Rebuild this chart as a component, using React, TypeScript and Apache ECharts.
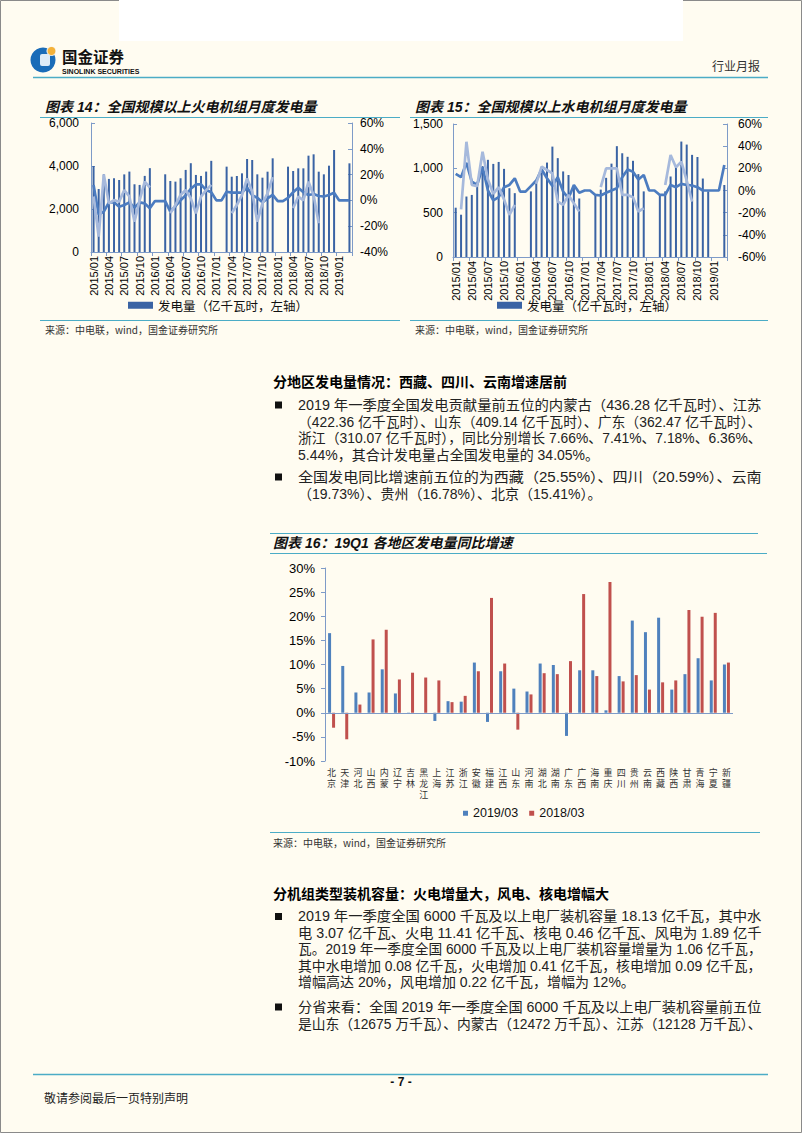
import React, { useEffect, useRef } from 'react';
import * as echarts from 'echarts';

// ---------- data ----------
const months = [
  '2015/01','2015/02','2015/03','2015/04','2015/05','2015/06','2015/07','2015/08','2015/09','2015/10','2015/11','2015/12',
  '2016/01','2016/02','2016/03','2016/04','2016/05','2016/06','2016/07','2016/08','2016/09','2016/10','2016/11','2016/12',
  '2017/01','2017/02','2017/03','2017/04','2017/05','2017/06','2017/07','2017/08','2017/09','2017/10','2017/11','2017/12',
  '2018/01','2018/02','2018/03','2018/04','2018/05','2018/06','2018/07','2018/08','2018/09','2018/10','2018/11','2018/12',
  '2019/01','2019/02','2019/03',
];

// 图表14 火电
const thermalOutput = [
  4000, 2930, 3610, 3400, 3430, 3350, 3610, 3740, 3150, 3120, 3540, 3900,
  null, null, 3614, 3304, 3273, 3429, 3818, 4130, 3584, 3538, 3740, 4240,
  null, null, 3970, 3503, 3535, 3659, 4326, 4279, 3612, 3457, 3736, 4357,
  null, null, 3970, 3767, 3891, 3891, 4481, 4543, 3736, 3612, 4015, 4744,
  null, null, 4124,
];
const thermalYoyCum = [
  12, -11, -8.7, -1.5, -1.5, -4.9, -3.6, -1.5, -5.6, -1.5, -2.3, -6.1,
  -0.5, -0.5, -0.5, -8.7, -4.5, 0, 4, 9, 12.4, 12.4, 8, 6.3,
  0, 0, 6.7, 6, 6, 6, 10, 4, 2, -1.5, 1.5, 4.2,
  -0.5, -0.5, 2, 6.3, 9.8, 6.3, 4.2, 5, 3.4, 3, 4.2, 6,
  0, 0, 0,
];
const thermalYoyMonth = [
  3, -28, 20, -2.3, 0.3, -1, 8, 3, -16.5, 0, 14.5, 10,
  null, null, null, -10, -3.6, 4.2, 8, 1.6, -10, 2.9, 8, 12,
  null, null, null, -10, -3.6, 4, 17, 6.8, -16.5, -2.3, 5.5, 18,
  null, null, null, -6, 3, 0, 14.5, 4, -17.8, null, null, null,
  null, null, null,
];

// 图表15 水电
const hydroOutput = [
  556, 477, 682, 700, 848, 1025, 1096, 1050, 1072, 994, 776, 720,
  null, null, 740, 830, 950, 1065, 1245, 1115, 965, 925, 805, 660,
  null, null, 700, 760, 893, 1053, 1250, 1170, 1130, 1085, 935, 740,
  null, null, 700, 740, 908, 1015, 1302, 1268, 1152, 1128, 885, 740,
  null, null, 812,
];
const hydroYoyCum = [
  15, 12, 25, 8, 5, 21, 0, -9, -6, 3, 5, 11,
  -1, -1, 4, 9, 19, 11, 4, 12, -1, -7, 5, -2,
  0, 0, -4, -4.5, -2, 0, 2, 12, 19, 17, 10, 14,
  0, 0, -4, -4, 5, 3, 6, 5, 4.5, 3, 0, 0,
  0, 0, 23,
];
const hydroYoyMonth = [
  null, -17, 44, 5, 4, 35, 10, -3, 3, -8, -22, -13,
  null, null, null, 6.5, 21.5, 18.5, 15.5, -10, -13, -4, -11.6, -19,
  null, null, null, 3, 20, 20, 20, -4, -4, -6, -19, -16,
  null, null, null, 5, 32, 21, 26, 9, -10, null, null, null,
  null, null, null,
];

// 图表16
const provinces = ['北京','天津','河北','山西','内蒙','辽宁','吉林','黑龙江','上海','江苏','浙江','安徽','福建','江西','山东','河南','湖北','湖南','广东','广西','海南','重庆','四川','贵州','云南','西藏','陕西','甘肃','青海','宁夏','新疆'];
const growth2019 = [16.5, 9.7, 4.2, 4.2, 9.0, 4.0, -0.2, 0, -1.7, 2.4, 2.3, 10.4, -1.9, 8.6, 5.0, 4.4, 10.2, 9.9, -4.8, 8.8, 8.8, 0.5, 7.6, 19.1, 16.7, 19.7, 4.8, 8.0, 11.3, 6.7, 10.0];
const growth2018 = [-3.1, -5.5, 1.7, 15.2, 17.2, 6.9, 8.3, 7.3, 6.7, 2.2, 3.5, 8.6, 23.8, 10.2, -3.5, 3.8, 8.2, 8.0, 10.7, 24.6, 7.6, 27.1, 6.5, 7.8, 4.8, 6.3, 6.7, 21.3, 19.9, 20.7, 10.4];

const outputName = '发电量（亿千瓦时，左轴）';
const sourceText = '来源：中电联，wind，国金证券研究所';

const section1Heading = '分地区发电量情况：西藏、四川、云南增速居前';
const section1Bullet1 = [
  '2019 年一季度全国发电贡献量前五位的内蒙古（436.28 亿千瓦时）、江苏',
  '（422.36 亿千瓦时）、山东（409.14 亿千瓦时）、广东（362.47 亿千瓦时）、',
  '浙江（310.07 亿千瓦时），同比分别增长 7.66%、7.41%、7.18%、6.36%、',
  '5.44%，其合计发电量占全国发电量的 34.05%。',
];
const section1Bullet2 = [
  '全国发电同比增速前五位的为西藏（25.55%）、四川（20.59%）、云南',
  '（19.73%）、贵州（16.78%）、北京（15.41%）。',
];
const section2Heading = '分机组类型装机容量：火电增量大，风电、核电增幅大';
const section2Bullet1 = [
  '2019 年一季度全国 6000 千瓦及以上电厂装机容量 18.13 亿千瓦，其中水',
  '电 3.07 亿千瓦、火电 11.41 亿千瓦、核电 0.46 亿千瓦、风电为 1.89 亿千',
  '瓦。2019 年一季度全国 6000 千瓦及以上电厂装机容量增量为 1.06 亿千瓦，',
  '其中水电增加 0.08 亿千瓦，火电增加 0.41 亿千瓦，核电增加 0.09 亿千瓦，',
  '增幅高达 20%，风电增加 0.22 亿千瓦，增幅为 12%。',
];
const section2Bullet2 = [
  '分省来看：全国 2019 年一季度全国 6000 千瓦及以上电厂装机容量前五位',
  '是山东（12675 万千瓦）、内蒙古（12472 万千瓦）、江苏（12128 万千瓦）、',
];

// ---------- styles ----------
const SANS = '"Liberation Sans", Arial, "Noto Sans CJK SC", sans-serif';
const CJK = '"Noto Sans CJK SC", "Liberation Sans", sans-serif';
const AX = '#7E9BC8';
const BAR = '#3A63A4';
const DARKLINE = '#4C7CC0';
const LIGHTLINE = '#A6B9DC';
const RULE = '#4BACC6';
const BODY_SIZE = 14;
const BODY_LEFT = 298;
const BODY_RIGHT = 762;

let measureCtx: CanvasRenderingContext2D | null = null;
function measure(text: string, size: number, family: string) {
  if (!measureCtx) measureCtx = document.createElement('canvas').getContext('2d');
  if (!measureCtx) return 0;
  measureCtx.font = `${size}px ${family}`;
  return measureCtx.measureText(text).width;
}

function txt(x: number, y: number, text: string, o: any = {}) {
  return {
    type: 'text',
    x,
    y,
    scaleX: o.scaleX || 1,
    silent: true,
    style: {
      text,
      fill: o.fill || '#1a1a1a',
      fontSize: o.size || 14,
      fontFamily: o.family || SANS,
      fontWeight: o.weight || 'normal',
      fontStyle: o.style || 'normal',
      align: o.align || 'left',
      textAlign: o.align || 'left',
      verticalAlign: 'middle',
      textVerticalAlign: 'middle',
    },
  };
}
function hline(x1: number, x2: number, y: number, color = RULE, w = 1) {
  return { type: 'line', silent: true, shape: { x1, y1: y, x2, y2: y }, style: { stroke: color, lineWidth: w } };
}
function rect(x: number, y: number, w: number, h: number, fill: string, stroke?: string) {
  return { type: 'rect', silent: true, shape: { x, y, width: w, height: h }, style: { fill, stroke: stroke || 'none', lineWidth: 1 } };
}
// justified paragraph: every line but the last is stretched to the column width (like the report)
function paragraph(lines: string[], y0: number, step: number, justifyAll = false) {
  const els: any[] = [rect(275, y0 - 3.5, 7, 7, '#111')];
  lines.forEach((l, i) => {
    let scaleX = 1;
    if (justifyAll || i < lines.length - 1) {
      const w = measure(l, BODY_SIZE, SANS);
      if (w > 0) scaleX = Math.min(1.12, Math.max(0.9, (BODY_RIGHT - BODY_LEFT) / w));
    }
    els.push(txt(BODY_LEFT, y0 + i * step, l, { size: BODY_SIZE, fill: '#222', scaleX }));
  });
  return els;
}

function buildOption() {
  const graphics: any[] = [
    rect(0.5, 0.5, 801, 1132, 'none', '#8a8a8a'),
    rect(119, 0, 564, 41, '#ffffff'),
    // logo
    { type: 'circle', silent: true, shape: { cx: 43, cy: 60, r: 12.5 }, style: { fill: '#1A6CB8' } },
    { type: 'rect', silent: true, shape: { x: 40, y: 54, width: 10, height: 12, r: 2 }, style: { fill: '#DDEBF7' } },
    { type: 'circle', silent: true, shape: { cx: 51.5, cy: 51, r: 4.5 }, style: { fill: '#F4B23A', stroke: '#ffffff', lineWidth: 1 } },
    txt(62, 55.5, '国金证券', { size: 15.5, weight: 'bold', family: CJK, fill: '#111' }),
    txt(62, 71.5, 'SINOLINK SECURITIES', { size: 7, weight: 'bold', fill: '#111' }),
    txt(760, 65, '行业月报', { size: 12, family: CJK, fill: '#333', align: 'right' }),
    hline(33, 768, 77.5, RULE, 1.5),

    // chart 14 frame
    txt(45, 107, '图表 14：全国规模以上火电机组月度发电量', { size: 14, weight: 'bold', style: 'italic', fill: '#111' }),
    hline(40, 400, 117.5),
    hline(40, 400, 320.5),
    txt(45, 329, sourceText, { size: 10, family: CJK, fill: '#333' }),

    // chart 15 frame
    txt(415, 107, '图表 15：全国规模以上水电机组月度发电量', { size: 14, weight: 'bold', style: 'italic', fill: '#111' }),
    hline(410, 768, 117.5),
    hline(410, 768, 320.5),
    txt(415, 329, sourceText, { size: 10, family: CJK, fill: '#333' }),

    // section 1
    txt(273, 381, section1Heading, { size: 14, weight: 'bold', family: CJK, fill: '#000' }),
    ...paragraph(section1Bullet1, 405, 16.5),
    ...paragraph(section1Bullet2, 477, 16.5),

    // chart 16 frame
    hline(270, 758, 533.5),
    hline(270, 767, 553.5),
    txt(273, 543, '图表 16：19Q1 各地区发电量同比增速', { size: 14, weight: 'bold', style: 'italic', fill: '#111' }),
    hline(270, 760, 832.5),
    txt(273, 842, sourceText, { size: 10, family: CJK, fill: '#333' }),

    // section 2
    txt(273, 893, section2Heading, { size: 14, weight: 'bold', family: CJK, fill: '#000' }),
    ...paragraph(section2Bullet1, 916.5, 16.4),
    ...paragraph(section2Bullet2, 1007, 16.5, true),

    // footer
    hline(33, 768, 1074.5, RULE, 1.5),
    txt(401, 1082, '- 7 -', { size: 12, weight: 'bold', align: 'center', fill: '#111' }),
    txt(44, 1097, '敬请参阅最后一页特别声明', { size: 12, family: CJK, fill: '#222' }),
  ];

  const pct = (v: number) => `${v}%`;
  const thousands = (v: number) => v.toLocaleString('en-US');
  const lbl = { color: '#000', fontFamily: SANS, fontSize: 12 };

  const monthAxis = (gridIndex: number) => ({
    type: 'category',
    gridIndex,
    data: months,
    boundaryGap: true,
    axisLine: { show: true, onZero: false, lineStyle: { color: AX } },
    axisTick: { show: true, interval: 2, length: 4, lineStyle: { color: AX } },
    axisLabel: { interval: 2, rotate: 90, fontSize: 11, margin: 4, color: '#000', fontFamily: SANS },
    splitLine: { show: false },
  });
  const valAxis = (gridIndex: number, min: number, max: number, interval: number, fmt: any, position: string, margin: number) => ({
    type: 'value',
    gridIndex,
    min,
    max,
    interval,
    position,
    axisLine: { show: true, onZero: false, lineStyle: { color: AX } },
    axisTick: { show: true, inside: true, length: 4, lineStyle: { color: AX } },
    axisLabel: { ...lbl, formatter: fmt, margin },
    splitLine: { show: false },
  });

  const lineSeries = (name: string, data: any[], x: number, y: number, color: string, z: number) => ({
    name,
    type: 'line',
    xAxisIndex: x,
    yAxisIndex: y,
    data,
    symbol: 'none',
    connectNulls: false,
    lineStyle: { color, width: 2.7 },
    itemStyle: { color },
    z,
  });

  return {
    animation: false,
    backgroundColor: '#FFFCF1',
    textStyle: { fontFamily: SANS },
    graphic: { elements: graphics },
    grid: [
      { left: 91, top: 123, width: 261, height: 129, containLabel: false, outerBoundsMode: 'none' },
      { left: 453, top: 124, width: 274, height: 133, containLabel: false, outerBoundsMode: 'none' },
      { left: 325, top: 568, width: 408, height: 193, containLabel: false, outerBoundsMode: 'none' },
    ],
    legend: [
      {
        data: [outputName], left: 128, top: 299, padding: 0, icon: 'rect', itemWidth: 25, itemHeight: 7,
        selectedMode: false, textStyle: { fontSize: 12.5, fontFamily: CJK, color: '#111' },
      },
      {
        data: [outputName], left: 497, top: 299, padding: 0, icon: 'rect', itemWidth: 25, itemHeight: 7,
        selectedMode: false, textStyle: { fontSize: 12.5, fontFamily: CJK, color: '#111' },
      },
      {
        data: ['2019/03', '2018/03'], left: 463, top: 807, padding: 0, icon: 'rect', itemWidth: 5, itemHeight: 5, itemGap: 11,
        selectedMode: false, textStyle: { fontSize: 12.5, fontFamily: SANS, color: '#111' },
      },
    ],
    xAxis: [
      monthAxis(0),
      monthAxis(1),
      {
        type: 'category',
        gridIndex: 2,
        data: provinces,
        boundaryGap: true,
        axisLine: { show: false, onZero: false },
        axisTick: { show: false },
        axisLabel: {
          interval: 0,
          margin: 6,
          fontSize: 9,
          lineHeight: 11,
          color: '#333',
          fontFamily: CJK,
          formatter: (v: string) => v.split('').join('\n'),
        },
        splitLine: { show: false },
      },
    ],
    yAxis: [
      valAxis(0, 0, 6000, 2000, thousands, 'left', 12),
      valAxis(0, -40, 60, 20, pct, 'right', 8),
      valAxis(1, 0, 1500, 500, thousands, 'left', 10),
      valAxis(1, -60, 60, 20, pct, 'right', 11),
      {
        type: 'value',
        gridIndex: 2,
        min: -10,
        max: 30,
        interval: 5,
        axisLine: { show: true, lineStyle: { color: AX } },
        axisTick: { show: true, inside: false, length: 4, lineStyle: { color: AX } },
        axisLabel: { ...lbl, fontSize: 13, formatter: pct, margin: 10 },
        splitLine: { show: false },
      },
    ],
    series: [
      { name: outputName, type: 'bar', xAxisIndex: 0, yAxisIndex: 0, data: thermalOutput, barWidth: 2, itemStyle: { color: BAR }, z: 2 },
      lineSeries('累计同比（右轴）', thermalYoyCum, 0, 1, DARKLINE, 3),
      lineSeries('当月同比（右轴）', thermalYoyMonth, 0, 1, LIGHTLINE, 4),

      { name: outputName, type: 'bar', xAxisIndex: 1, yAxisIndex: 2, data: hydroOutput, barWidth: 2, itemStyle: { color: BAR }, z: 2 },
      lineSeries('水电累计同比（右轴）', hydroYoyCum, 1, 3, DARKLINE, 3),
      lineSeries('水电当月同比（右轴）', hydroYoyMonth, 1, 3, LIGHTLINE, 4),

      {
        name: '2019/03', type: 'bar', xAxisIndex: 2, yAxisIndex: 4, data: growth2019,
        barWidth: 3, barGap: '33%', itemStyle: { color: '#4F81BD' },
        markLine: {
          silent: true, symbol: ['none', 'none'], label: { show: false },
          lineStyle: { color: AX, width: 1, type: 'solid' },
          emphasis: { disabled: true },
          data: [{ yAxis: 0 }],
        },
      },
      {
        name: '2018/03', type: 'bar', xAxisIndex: 2, yAxisIndex: 4, data: growth2018,
        barWidth: 3, barGap: '33%', itemStyle: { color: '#C0504D' },
      },
    ],
  };
}

export default function App() {
  const ref = useRef<HTMLDivElement>(null);
  useEffect(() => {
    if (!ref.current) return;
    const chart = echarts.init(ref.current, null, { renderer: 'svg' });
    chart.setOption(buildOption() as any);
    return () => chart.dispose();
  }, []);
  return <div ref={ref} style={{ position: 'absolute', left: 0, top: 0, width: 802, height: 1133 }} />;
}
